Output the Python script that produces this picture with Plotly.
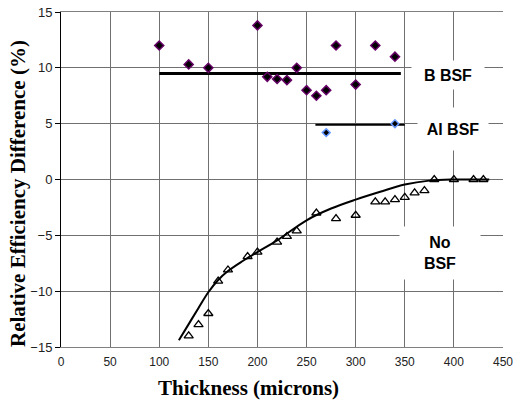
import plotly.graph_objects as go

# B BSF (diamonds)
b_x = [100, 130, 150, 200, 210, 220, 230, 240, 250, 260, 270, 280, 300, 320, 340]
b_y = [12.0, 10.3, 10.0, 13.8, 9.2, 9.0, 8.9, 10.0, 8.0, 7.5, 8.0, 12.0, 8.5, 12.0, 11.0]
b_line_x = [100, 346]
b_line_y = [9.5, 9.5]

# Al BSF
al_x = [270, 340]
al_y = [4.2, 5.0]
al_line_x = [259, 350]
al_line_y = [4.9, 4.9]

# No BSF (triangles)
n_x = [130, 140, 150, 160, 170, 190, 200, 220, 230, 240, 260, 280, 300, 320, 330, 340, 350, 360, 370, 380, 400, 420, 430]
n_y = [-14.0, -13.0, -12.0, -9.1, -8.1, -6.9, -6.5, -5.6, -5.1, -4.6, -3.0, -3.5, -3.2, -2.0, -2.0, -1.8, -1.6, -1.2, -1.0, 0.0, 0.0, 0.0, 0.0]

# fitted curve
fit_x = [120, 130, 140, 150, 160, 170, 185, 200, 220, 250, 275, 300, 325, 350, 375, 400, 436]
fit_y = [-14.4, -12.95, -11.5, -10.1, -9.0, -8.2, -7.3, -6.5, -5.45, -3.65, -2.6, -1.8, -1.1, -0.45, -0.1, 0.0, 0.0]

x_ticks = [0, 50, 100, 150, 200, 250, 300, 350, 400, 450]
y_ticks = [-15, -10, -5, 0, 5, 10, 15]

fig = go.Figure()
fig.add_trace(go.Scatter(x=b_line_x, y=b_line_y, mode="lines",
                         line=dict(color="black", width=3), showlegend=False))
fig.add_trace(go.Scatter(x=al_line_x, y=al_line_y, mode="lines",
                         line=dict(color="black", width=2), showlegend=False))
fig.add_trace(go.Scatter(x=fit_x, y=fit_y, mode="lines", line_shape="spline",
                         line=dict(color="black", width=2), showlegend=False))
fig.add_trace(go.Scatter(x=b_x, y=b_y, mode="markers",
                         marker=dict(symbol="diamond", size=7, color="black",
                                     line=dict(color="#660066", width=1.5)),
                         showlegend=False))
fig.add_trace(go.Scatter(x=al_x, y=al_y, mode="markers",
                         marker=dict(symbol="diamond", size=6, color="black",
                                     line=dict(color="#6699ff", width=1.5)),
                         showlegend=False))
fig.add_trace(go.Scatter(x=n_x, y=n_y, mode="markers",
                         marker=dict(symbol="triangle-up-open", size=8, color="black",
                                     line=dict(color="black", width=1.3)),
                         showlegend=False))

lab_font = dict(family="Liberation Sans, Arial", size=16, color="black")
fig.add_annotation(x=393.6, y=9.35, text="<b>B BSF</b>", showarrow=False,
                   font=lab_font, bgcolor="white", width=70, height=26)
fig.add_annotation(x=398.7, y=4.5, text="<b>Al BSF</b>", showarrow=False,
                   font=lab_font, bgcolor="white", width=68, height=40)
fig.add_annotation(x=386.2, y=-6.6, text="<b>No<br>BSF</b>", showarrow=False,
                   font=lab_font, bgcolor="white", width=78, height=50)

title_font = dict(family="Liberation Serif, Times New Roman", size=21, color="black")
fig.add_annotation(xref="paper", yref="paper", x=0.425, y=-0.122,
                   xanchor="center", yanchor="middle",
                   text="<b>Thickness (microns)</b>", showarrow=False, font=title_font)
fig.add_annotation(xref="paper", yref="paper", x=-0.097, y=0.457, textangle=-90,
                   xanchor="center", yanchor="middle",
                   text="<b>Relative Efficiency Difference (%)</b>", showarrow=False,
                   font=title_font)

fig.update_layout(
    width=529, height=403,
    margin=dict(l=61, r=26, t=12, b=56),
    paper_bgcolor="white", plot_bgcolor="white",
    font=dict(family="Liberation Sans, Arial", size=12, color="#222"),
)
fig.update_xaxes(range=[0, 450], tickvals=x_ticks, showgrid=True, gridcolor="#707070",
                 gridwidth=1, zeroline=False, showline=True, linecolor="#808080",
                 linewidth=1, mirror=True, ticks="outside", ticklen=4,
                 tickcolor="rgba(0,0,0,0)", tickfont=dict(size=12),
                 ticklabeloverflow="allow", automargin=False, fixedrange=True)
fig.update_yaxes(range=[-15, 15], tickvals=y_ticks, showgrid=True, gridcolor="#707070",
                 gridwidth=1, zeroline=False, showline=True, linecolor="black",
                 linewidth=1, ticks="outside", ticklen=5, tickcolor="black",
                 tickfont=dict(size=13), ticklabeloverflow="allow",
                 automargin=False, fixedrange=True)

fig.write_html("out.html", config={"displayModeBar": False},
               post_script="document.body.style.margin='0';")
